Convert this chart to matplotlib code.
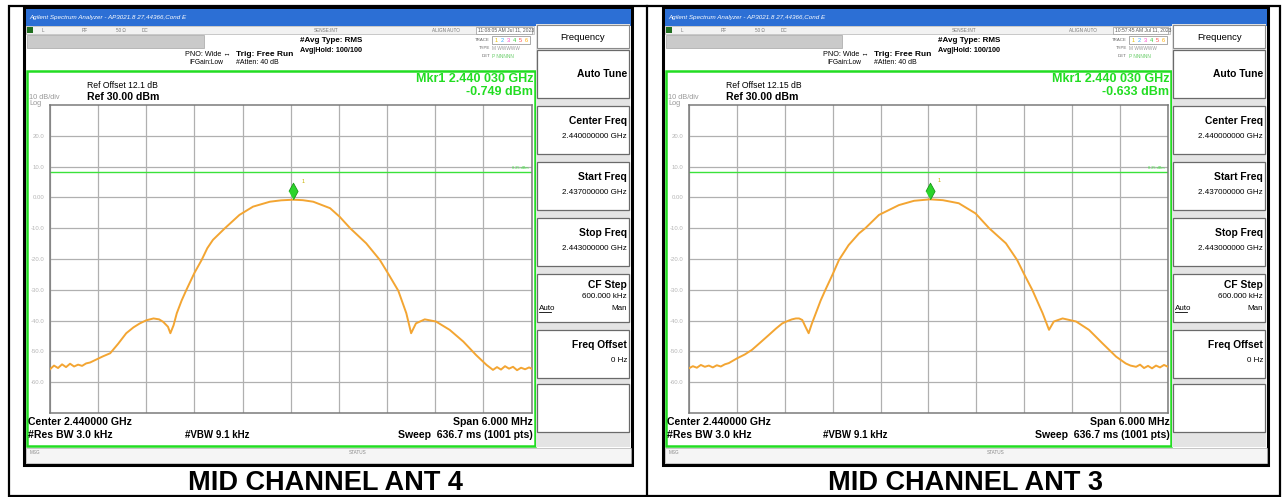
import numpy as np
import matplotlib.pyplot as plt
from matplotlib.patches import Rectangle

plt.rcParams['font.family'] = ['Liberation Sans', 'DejaVu Sans']

W_PX, H_PX = 1283, 497

# trace readings: offset from centre (MHz) and level (dBm)
off_ant4 = [-3.00, -2.95, -2.90, -2.85, -2.80, -2.75, -2.70, -2.65, -2.60, -2.55,
            -2.50, -2.42, -2.34, -2.25, -2.15, -2.05, -1.96, -1.88, -1.80, -1.71,
            -1.64, -1.59, -1.53, -1.50, -1.46, -1.42, -1.36, -1.30, -1.20, -1.11,
            -1.04, -0.97, -0.82, -0.64, -0.47, -0.26, -0.12, 0.03, 0.15, 0.28,
            0.49, 0.61, 0.74, 0.94, 1.11, 1.22, 1.34, 1.44, 1.50, 1.56,
            1.67, 1.81, 1.98, 2.15, 2.31, 2.44, 2.52, 2.57, 2.62, 2.67,
            2.72, 2.77, 2.82, 2.87, 2.92, 2.97, 3.00]
lvl_ant4 = [-55.8, -54.6, -55.4, -54.2, -55.1, -54.0, -54.9, -54.3, -54.7, -53.9,
            -53.6, -52.6, -51.6, -50.6, -47.5, -44.1, -42.2, -40.9, -39.9, -39.3,
            -39.6, -40.4, -42.0, -44.1, -41.5, -37.6, -33.5, -30.0, -24.5, -20.3,
            -16.5, -13.8, -10.0, -5.7, -3.0, -1.4, -0.95, -0.749, -0.9, -1.4,
            -3.5, -6.3, -10.0, -14.9, -20.3, -25.0, -30.3, -37.6, -44.1, -40.9,
            -39.6, -40.3, -43.0, -46.8, -51.2, -54.4, -56.0, -55.1, -55.9, -54.8,
            -55.6, -55.0, -56.1, -55.3, -55.8, -55.2, -55.6]

off_ant3 = [-3.00, -2.95, -2.90, -2.85, -2.80, -2.75, -2.70, -2.65, -2.60, -2.55,
            -2.50, -2.40, -2.30, -2.21, -2.10, -2.00, -1.91, -1.83, -1.76, -1.71,
            -1.66, -1.62, -1.58, -1.54, -1.50, -1.46, -1.41, -1.35, -1.29, -1.20,
            -1.12, -1.00, -0.87, -0.79, -0.62, -0.37, -0.18, 0.02, 0.18, 0.38,
            0.59, 0.76, 0.97, 1.11, 1.20, 1.30, 1.43, 1.51, 1.57, 1.68,
            1.85, 2.01, 2.18, 2.35, 2.47, 2.53, 2.60, 2.65, 2.70, 2.75,
            2.80, 2.85, 2.90, 2.95, 3.00]
lvl_ant3 = [-55.5, -54.8, -55.3, -54.4, -55.0, -54.6, -55.2, -54.5, -54.9, -54.2,
            -53.8, -52.3, -51.0, -49.5, -47.0, -44.7, -42.6, -40.9, -40.1, -39.6,
            -39.3, -39.3, -39.8, -42.0, -44.1, -41.0, -37.6, -33.5, -30.0, -25.0,
            -20.3, -15.5, -11.7, -10.0, -5.7, -2.5, -1.1, -0.633, -0.9, -1.9,
            -5.2, -10.0, -14.9, -20.3, -25.0, -30.0, -37.6, -43.0, -40.3, -39.3,
            -40.3, -43.0, -47.4, -51.7, -53.9, -54.6, -55.0, -54.3, -55.4, -54.7,
            -55.5, -54.6, -55.2, -54.4, -55.0]

captions = ['MID CHANNEL ANT 4', 'MID CHANNEL ANT 3']
ref_offsets = ['Ref Offset 12.1 dB', 'Ref Offset 12.15 dB']
times = ['11:08:05 AM Jul 11, 2023', '10:57:45 AM Jul 11, 2023']
mkr_off = [0.03, 0.02]
mkr_val = [-0.749, -0.633]
disp_line = 8.3
y_ticks = [20, 10, 0, -10, -20, -30, -40, -50, -60]
y_labels = ['20.0', '10.0', '0.00', '-10.0', '-20.0', '-30.0', '-40.0', '-50.0', '-60.0']
softkeys = [('Auto Tune', ''), ('Center Freq', '2.440000000 GHz'),
            ('Start Freq', '2.437000000 GHz'), ('Stop Freq', '2.443000000 GHz'),
            ('CF Step', '600.000 kHz'), ('Freq Offset', '0 Hz'), ('', '')]
key_tops = [50, 106, 162, 218, 274, 330, 384]

GREEN = '#22dd22'
TRACE = '#f3a532'

fig = plt.figure(figsize=(W_PX / 100, H_PX / 100), dpi=100)
bg = fig.add_axes([0, 0, 1, 1])
bg.set_xlim(0, W_PX)
bg.set_ylim(H_PX, 0)
bg.axis('off')


def px_axes(left, top, right, bottom):
    return fig.add_axes([left / W_PX, 1 - bottom / H_PX,
                         (right - left) / W_PX, (bottom - top) / H_PX])


def panel(i, x0, W, off, lvl):
    s = W / 608.0
    X = lambda r: x0 + r * s

    bg.add_patch(Rectangle((x0, 7), W, 458, fc='white', ec='black', lw=2.2, zorder=1))
    # title bar
    bg.add_patch(Rectangle((x0 + 1.5, 9), W - 3, 17, fc='#2c6fd5', ec='none', zorder=2))
    bg.text(X(5), 17.5, 'Agilent Spectrum Analyzer - AP3021.8 27,44366,Cond E',
            color='white', fontsize=4.5, style='italic', va='center', zorder=3)
    # status row
    bg.add_patch(Rectangle((x0 + 1.5, 26), X(510) - x0 - 1.5, 8, fc='#f2f2f2',
                           ec='#b5b5b5', lw=0.5, zorder=2))
    bg.add_patch(Rectangle((x0 + 3, 27), 6, 6, fc='#1f6e1f', ec='none', zorder=3))
    for r, t in [(18, 'L'), (58, 'RF'), (92, '50 \u03a9'), (118, 'DC'),
                 (290, 'SENSE:INT'), (408, 'ALIGN AUTO')]:
        bg.text(X(r), 30, t, fontsize=3.3, color='#777777', va='center', zorder=3)
    bg.add_patch(Rectangle((X(452), 26.5), X(508) - X(452), 7, fc='white',
                           ec='#999999', lw=0.5, zorder=3))
    bg.text(X(454), 30, times[i], fontsize=3.6, color='#555555', va='center', zorder=4)
    # gray bar
    bg.add_patch(Rectangle((x0 + 3, 34.5), X(180) - x0 - 3, 13, fc='#cacaca',
                           ec='#a5a5a5', lw=0.5, zorder=2))
    # settings text
    bg.text(X(161), 55, 'PNO: Wide \u2194', fontsize=5.2, va='center', zorder=3)
    bg.text(X(165), 63, 'IFGain:Low', fontsize=4.8, va='center', zorder=3)
    bg.text(X(212), 55, 'Trig: Free Run', fontsize=6.0, fontweight='bold', va='center', zorder=3)
    bg.text(X(212), 63, '#Atten: 40 dB', fontsize=5.0, va='center', zorder=3)
    bg.text(X(276), 40, '#Avg Type: RMS', fontsize=5.8, fontweight='bold', va='center', zorder=3)
    bg.text(X(276), 50, 'Avg|Hold: 100/100', fontsize=5.2, fontweight='bold', va='center', zorder=3)
    bg.text(X(466), 40, 'TRACE', fontsize=3.2, color='#666666', ha='right', va='center', zorder=3)
    bg.text(X(466), 48, 'TYPE', fontsize=3.2, color='#666666', ha='right', va='center', zorder=3)
    bg.text(X(466), 56, 'DET', fontsize=3.2, color='#666666', ha='right', va='center', zorder=3)
    bg.add_patch(Rectangle((X(468), 36), X(506) - X(468), 8, fc='white', ec='#888888',
                           lw=0.5, zorder=3))
    for k, c in enumerate(['#e8c000', '#33aaff', '#ff44cc', '#33cc33', '#ff4444', '#ffaa00']):
        bg.text(X(471 + k * 6), 40, str(k + 1), fontsize=4, color=c, va='center', zorder=4)
    bg.text(X(468), 48, 'M WWWWW', fontsize=3.4, color='#999999', va='center', zorder=3)
    bg.text(X(468), 56, 'P NNNNN', fontsize=3.4, color='#66cc66', va='center', zorder=3)

    # green measurement area
    bg.add_patch(Rectangle((X(3), 71), X(511) - X(3), 375, fc='white', ec=GREEN,
                           lw=1.8, zorder=2))
    bg.text(X(509), 79, 'Mkr1 2.440 030 GHz', fontsize=9.0, fontweight='bold',
            color=GREEN, ha='right', va='center', zorder=3)
    bg.text(X(509), 92, '%.3f dBm' % mkr_val[i], fontsize=9.0, fontweight='bold',
            color=GREEN, ha='right', va='center', zorder=3)
    bg.text(X(63), 85, ref_offsets[i], fontsize=6.2, va='center', zorder=3)
    bg.text(X(63), 97, 'Ref 30.00 dBm', fontsize=7.6, fontweight='bold', va='center', zorder=3)
    bg.text(X(5), 97.5, '10 dB/div', fontsize=5.3, color='#999999', va='center', zorder=3)
    bg.text(X(5), 103.5, 'Log', fontsize=5.3, color='#999999', va='center', zorder=3)
    bg.text(X(4), 422, 'Center 2.440000 GHz', fontsize=7.6, fontweight='bold', va='center', zorder=3)
    bg.text(X(4), 434.5, '#Res BW 3.0 kHz', fontsize=7.6, fontweight='bold', va='center', zorder=3)
    bg.text(X(161), 434.5, '#VBW 9.1 kHz', fontsize=7.0, fontweight='bold', va='center', zorder=3)
    bg.text(X(509), 422, 'Span 6.000 MHz', fontsize=7.6, fontweight='bold',
            ha='right', va='center', zorder=3)
    bg.text(X(509), 434.5, 'Sweep  636.7 ms (1001 pts)', fontsize=7.6, fontweight='bold',
            ha='right', va='center', zorder=3)

    # bottom status bar
    bg.add_patch(Rectangle((x0 + 1.5, 447.5), W - 3, 15, fc='#f5f5f5', ec='#b0b0b0',
                           lw=0.5, zorder=2))
    bg.text(X(6), 453, 'MSG', fontsize=3.3, color='#888888', va='center', zorder=3)
    bg.text(X(325), 453, 'STATUS', fontsize=3.3, color='#888888', va='center', zorder=3)

    # softkey panel
    bg.add_patch(Rectangle((X(512), 24), X(606) - X(512), 423, fc='#e4e4e4',
                           ec='none', zorder=2))
    bg.add_patch(Rectangle((X(513), 25), X(605) - X(513), 23, fc='white',
                           ec='#8a8a8a', lw=0.8, zorder=3))
    bg.text((X(513) + X(605)) / 2, 37, 'Frequency', fontsize=6.8, ha='center',
            va='center', zorder=4)
    for (name, val), top in zip(softkeys, key_tops):
        bg.add_patch(Rectangle((X(513), top), X(605) - X(513), 48, fc='white',
                               ec='#6a6a6a', lw=0.9, zorder=3))
        if name == 'Auto Tune':
            bg.text(X(603), top + 24, name, fontsize=7.4, fontweight='bold',
                    ha='right', va='center', zorder=4)
        elif name == 'CF Step':
            bg.text(X(603), top + 11, name, fontsize=7.4, fontweight='bold',
                    ha='right', va='center', zorder=4)
            bg.text(X(603), top + 23, val, fontsize=5.8, ha='right', va='center', zorder=4)
            bg.text(X(515), top + 34, 'Auto', fontsize=5.8, ha='left', va='center',
                    zorder=4)
            bg.plot([X(515), X(527)], [top + 38, top + 38], color='black', lw=0.6, zorder=4)
            bg.text(X(603), top + 34, 'Man', fontsize=5.8, ha='right', va='center', zorder=4)
        elif name:
            bg.text(X(603), top + 15, name, fontsize=7.4, fontweight='bold',
                    ha='right', va='center', zorder=4)
            bg.text(X(603), top + 30, val, fontsize=5.8, ha='right', va='center', zorder=4)

    # trace graticule
    ax = px_axes(X(26), 105, X(507.5), 413)
    ax.set_xlim(-3, 3)
    ax.set_ylim(-70, 30)
    ax.set_xticks(np.arange(-3, 3.01, 0.6))
    ax.set_yticks(y_ticks)
    ax.set_xticklabels([])
    ax.set_yticklabels(y_labels, fontsize=4.3, color='#b5b5b5')
    ax.tick_params(length=0, pad=4)
    ax.grid(True, color='#b0b0b0', lw=0.9)
    for sp in ax.spines.values():
        sp.set_color('#7a7a7a')
        sp.set_linewidth(1.1)
    ax.axhline(disp_line, color='#3be23b', lw=1.0)
    ax.text(2.96, disp_line + 0.6, '8.25 dBm', fontsize=2.8, color='#3be23b',
            ha='right', va='bottom')
    ax.plot(off, lvl, color=TRACE, lw=1.4, zorder=3)
    ax.plot(mkr_off[i], mkr_val[i] + 2.7, marker=[(0, -1), (0.55, 0), (0, 1), (-0.55, 0)],
            ms=12, color='#2bd42b', mec='#169816', mew=0.6, zorder=4)
    ax.text(mkr_off[i] + 0.1, mkr_val[i] + 5.5, '1', fontsize=4, color='#c9b000', zorder=4)


panel(0, 24, 608, off_ant4, lvl_ant4)
panel(1, 663, 605, off_ant3, lvl_ant3)

# outer table
bg.add_patch(Rectangle((9, 6), 1271, 490, fill=False, ec='black', lw=1.6, zorder=5))
bg.plot([647, 647], [6, 496], color='black', lw=1.6, zorder=5)

bg.text(325, 483, captions[0], fontsize=19.5, fontweight='bold', ha='center', va='center')
bg.text(965, 483, captions[1], fontsize=19.5, fontweight='bold', ha='center', va='center')

fig.savefig('out.png', dpi=100)
